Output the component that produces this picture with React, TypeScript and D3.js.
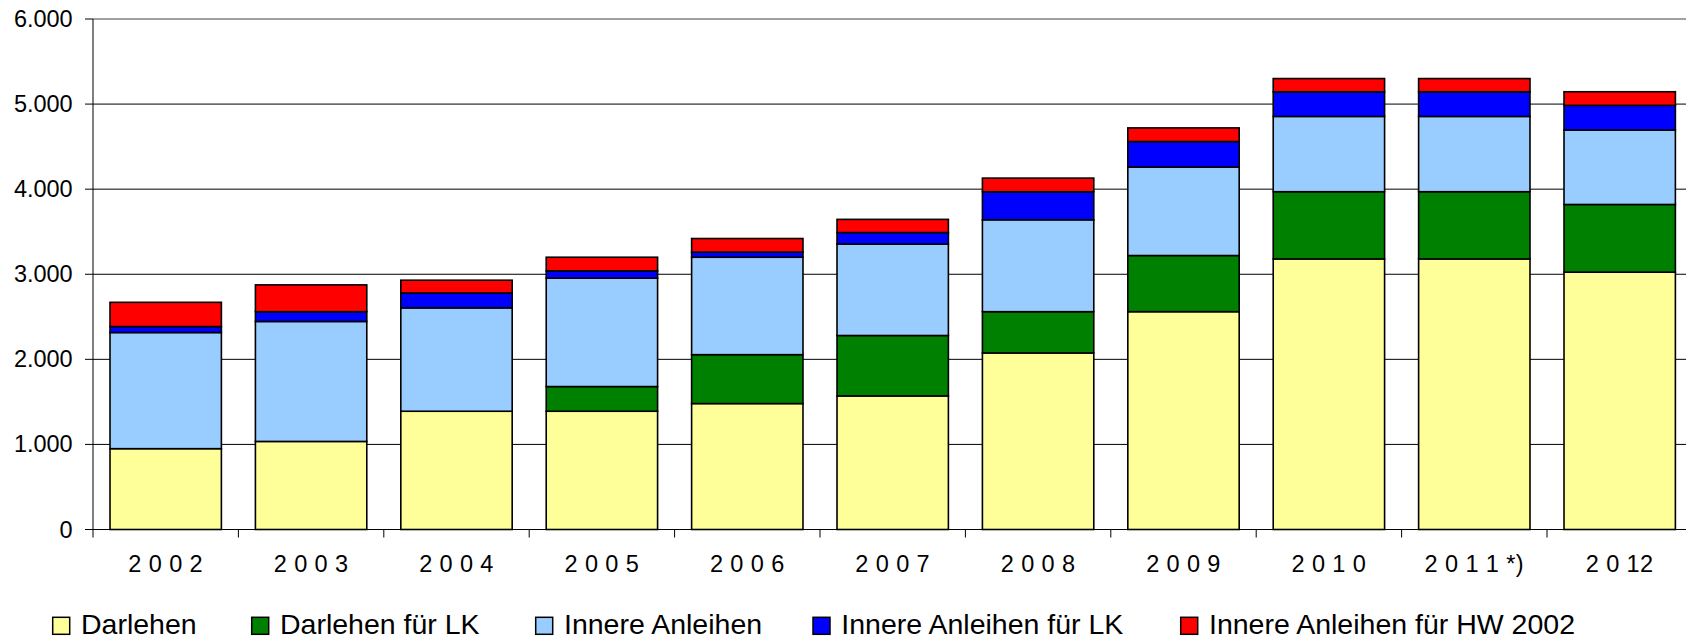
import React from "react";
import * as d3 from "d3";

const categories = ["2 0 0 2", "2 0 0 3", "2 0 0 4", "2 0 0 5", "2 0 0 6", "2 0 0 7", "2 0 0 8", "2 0 0 9", "2 0 1 0", "2 0 1 1 *)", "2 0 12"];
const seriesNames = ["Darlehen", "Darlehen für LK", "Innere Anleihen", "Innere Anleihen für LK", "Innere Anleihen für HW 2002"];
const darlehen = [950, 1035, 1390, 1390, 1480, 1570, 2075, 2560, 3180, 3180, 3025];
const darlehenLK = [0, 0, 0, 290, 575, 710, 485, 660, 790, 790, 795];
const innereAnleihen = [1365, 1410, 1215, 1275, 1145, 1075, 1080, 1040, 885, 885, 875];
const innereAnleihenLK = [70, 115, 175, 85, 60, 135, 330, 300, 290, 290, 290];
const innereAnleihenHW = [285, 315, 150, 160, 160, 155, 160, 160, 155, 155, 160];
const yTicks = [0, 1000, 2000, 3000, 4000, 5000, 6000];
const yTickLabels = ["0", "1.000", "2.000", "3.000", "4.000", "5.000", "6.000"];

const colors = ["#FFFF99", "#008000", "#99CCFF", "#0000FF", "#FF0000"];
const W = 1686;
const H = 638;
const FONT = "'Liberation Sans', Arial, Helvetica, sans-serif";

export default function App() {
  const left = 93;
  const step = 145.4;
  const x = d3
    .scaleBand<string>()
    .domain(categories)
    .range([left, left + step * categories.length])
    .paddingInner(0.234)
    .paddingOuter(0.117);
  const y = d3.scaleLinear().domain([0, 6000]).range([529.5, 19]);

  const table = categories.map((c, i) => ({
    cat: c,
    s0: darlehen[i],
    s1: darlehenLK[i],
    s2: innereAnleihen[i],
    s3: innereAnleihenLK[i],
    s4: innereAnleihenHW[i],
  }));
  const keys = ["s0", "s1", "s2", "s3", "s4"];
  const stacked = d3.stack<any>().keys(keys)(table);

  const legendX = [52.7, 251.7, 535.7, 813, 1180.7];

  return (
    <svg width={W} height={H} style={{ position: "absolute", left: 0, top: 0, background: "#fff" }} fontFamily={FONT}>
      <rect x={0} y={0} width={W} height={H} fill="#fff" />
      {/* gridlines */}
      {yTicks.map((t) => (
        <line
          key={"g" + t}
          x1={left}
          x2={W}
          y1={y(t)}
          y2={y(t)}
          stroke={t === 6000 ? "#808080" : "#000"}
          strokeWidth={t === 6000 ? 1.5 : 1}
        />
      ))}
      {/* bars */}
      {stacked.map((layer, li) =>
        layer.map((d, i) => {
          const v = d[1] - d[0];
          if (v <= 0) return null;
          return (
            <rect
              key={li + "-" + i}
              x={x(categories[i])}
              y={y(d[1])}
              width={x.bandwidth()}
              height={y(d[0]) - y(d[1])}
              fill={colors[li]}
              stroke="#000"
              strokeWidth={1.6}
            />
          );
        })
      )}
      {/* y axis */}
      <line x1={left} x2={left} y1={y(6000)} y2={y(0)} stroke="#000" strokeWidth={1} />
      {yTicks.map((t, i) => (
        <g key={"yt" + t}>
          <line x1={left - 8} x2={left} y1={y(t)} y2={y(t)} stroke="#000" strokeWidth={1} />
          <text x={72.7} y={y(t) + 8} textAnchor="end" fontSize={23.5} fill="#000">
            {yTickLabels[i]}
          </text>
        </g>
      ))}
      {/* x axis */}
      <line x1={left} x2={W} y1={y(0)} y2={y(0)} stroke="#000" strokeWidth={1} />
      {categories.map((c, i) => (
        <line
          key={"xt" + i}
          x1={left + step * i}
          x2={left + step * i}
          y1={y(0)}
          y2={y(0) + 8}
          stroke="#000"
          strokeWidth={1}
        />
      ))}
      {categories.map((c) => (
        <text
          key={"xl" + c}
          x={(x(c) as number) + x.bandwidth() / 2}
          y={572.3}
          textAnchor="middle"
          fontSize={23.5}
          letterSpacing={0.4}
          fill="#000"
        >
          {c}
        </text>
      ))}
      {/* legend */}
      {seriesNames.map((n, i) => (
        <g key={"lg" + i}>
          <rect x={legendX[i]} y={617.3} width={17} height={17} fill={colors[i]} stroke="#000" strokeWidth={1.5} />
          <text x={legendX[i] + 28.3} y={634.3} fontSize={28.5} fill="#000">
            {n}
          </text>
        </g>
      ))}
    </svg>
  );
}
